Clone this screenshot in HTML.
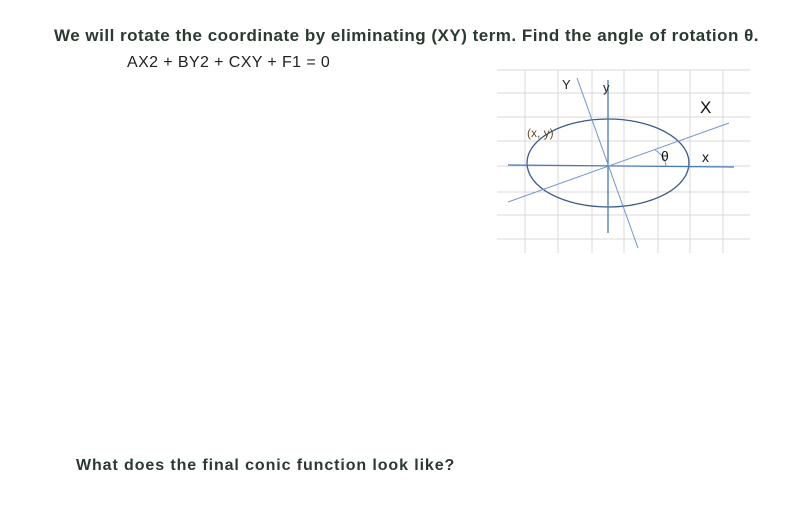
<!DOCTYPE html>
<html><head><meta charset="utf-8"><style>
body{margin:0;width:799px;height:525px;background:#fff;position:relative;overflow:hidden;font-family:"Liberation Sans",sans-serif}
.t{position:absolute;color:#2b3a31;white-space:nowrap}
</style></head><body>
<div class="t" style="left:54px;top:26px;font-size:17px;font-weight:bold;letter-spacing:0.5px">We will rotate the coordinate by eliminating (XY) term. Find the angle of rotation θ.</div>
<div class="t" style="left:127px;top:54px;font-size:16px;color:#222;letter-spacing:0.4px">AX2 + BY2 + CXY + F1 = 0</div>
<div class="t" style="left:76px;top:457px;font-size:16px;font-weight:bold;letter-spacing:0.9px">What does the final conic function look like?</div>
<svg width="799" height="525" style="position:absolute;left:0;top:0">
<g stroke="#d9d9d9" stroke-width="1">
<line x1="525" y1="70" x2="525" y2="253"/><line x1="558" y1="70" x2="558" y2="253"/><line x1="592" y1="70" x2="592" y2="253"/><line x1="624" y1="70" x2="624" y2="253"/><line x1="658" y1="70" x2="658" y2="253"/><line x1="690" y1="70" x2="690" y2="253"/><line x1="723" y1="70" x2="723" y2="253"/>
<line x1="497" y1="70" x2="750" y2="70"/><line x1="497" y1="93" x2="750" y2="93"/><line x1="497" y1="117" x2="750" y2="117"/><line x1="497" y1="141" x2="750" y2="141"/><line x1="497" y1="166" x2="750" y2="166"/><line x1="497" y1="192" x2="750" y2="192"/><line x1="497" y1="215" x2="750" y2="215"/><line x1="497" y1="239" x2="750" y2="239"/>
</g>
<ellipse cx="608" cy="163" rx="81" ry="44" fill="none" stroke="#3b5a85" stroke-width="1.3"/>
<line x1="508" y1="165" x2="734" y2="167" stroke="#4a78b5" stroke-width="1.3"/>
<line x1="608" y1="80" x2="608" y2="233" stroke="#4a78b5" stroke-width="1.3"/>
<line x1="508" y1="202" x2="729" y2="123" stroke="#6f95c8" stroke-width="1"/>
<line x1="577" y1="78" x2="638" y2="248" stroke="#6f95c8" stroke-width="1"/>
<path d="M655 150 Q665 156 666 166" fill="none" stroke="#6f95c8" stroke-width="1"/>
<text x="562" y="89" font-size="13" fill="#222" font-family="Liberation Sans">Y</text>
<text x="603" y="92" font-size="13" fill="#222" font-family="Liberation Sans">y</text>
<text x="700" y="113" font-size="17" fill="#111" font-family="Liberation Sans">X</text>
<text x="702" y="162" font-size="14" fill="#111" font-family="Liberation Sans">x</text>
<text x="661" y="161" font-size="14" fill="#111" font-family="Liberation Sans">θ</text>
<text x="527" y="137" font-size="12" fill="#6b4a2a" font-family="Liberation Sans">(x, y)</text>
</svg>
</body></html>
